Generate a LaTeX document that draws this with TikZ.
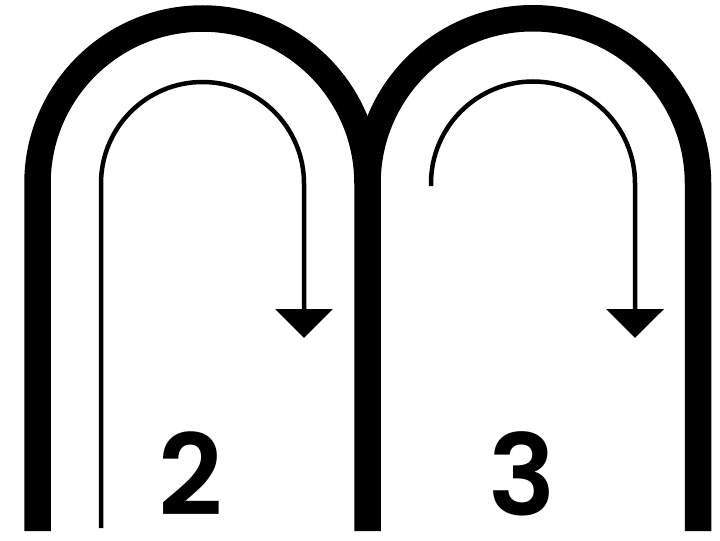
\documentclass[tikz,border=0pt]{standalone}
\usepackage{fontspec}
\newfontfamily\digitfont{Poppins SemiBold}
\usetikzlibrary{arrows.meta}

\begin{document}
\begin{tikzpicture}[x=0.2mm, y=0.2mm,
  arch/.style={line width=5.3mm, line cap=butt},
  flow/.style={line width=0.9mm, -{Triangle[width=11.4mm, length=5.8mm]}},
  digit/.style={inner sep=0pt, font=\fontsize{64}{70}\selectfont\digitfont}]
\useasboundingbox (0,0) rectangle (720,540);
% the two arches, sharing the middle leg
\coordinate (legA) at (37.5,9);
\coordinate (legB) at (367.5,9);
\coordinate (legC) at (698,9);
\draw[arch] (legA) -- (37.5,356.5) arc (180:0:165) -- (legB);
\draw[arch] (367.5,356.5) arc (180:0:165.25) -- (legC);
% turn arrows
\coordinate (startL) at (101,12);
\coordinate (tipL) at (304,202);
\draw[flow] (startL) -- (101,356.5) arc (180:0:101.5) -- (tipL);
\coordinate (startR) at (431,354);
\coordinate (tipR) at (635,202);
\draw[flow] (startR) -- (431,356.5) arc (180:0:102) -- (tipR);
% page numbers
\node[digit] (two) at (191,66) {2};
\node[digit] (three) at (522.5,66) {3};
\end{tikzpicture}
\end{document}
